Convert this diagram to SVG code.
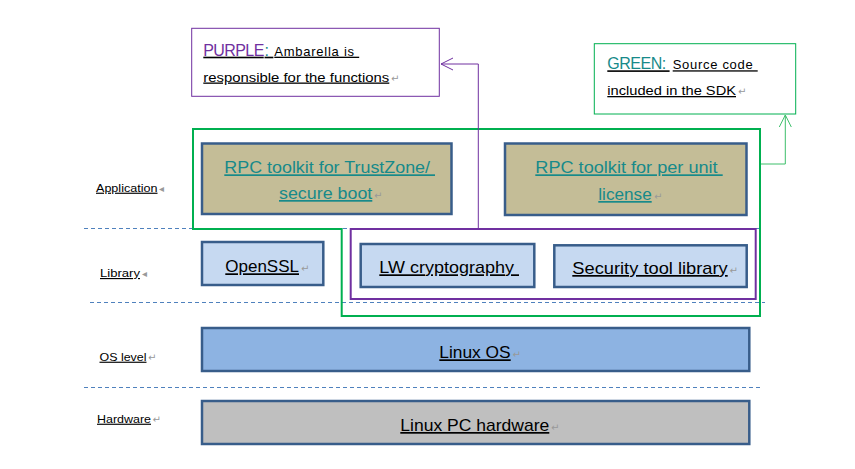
<svg xmlns="http://www.w3.org/2000/svg" width="855" height="469" viewBox="0 0 855 469">
<defs>
<style>
text{font-family:"Liberation Sans",Arial,sans-serif;}
.u{text-decoration:underline;}
.box{stroke:#385D8A;stroke-width:2.5;}
.app{fill:#C4BD97;}
.lib{fill:#C6D9F1;}
.big{font-size:17px;fill:#000;}
.teal{font-size:17px;fill:#178A8A;}
.lbl{font-size:11.5px;fill:#000;}
.note{font-size:13px;fill:#000;}
.ret{fill:#999;font-size:10px;font-family:"DejaVu Sans",sans-serif;}
.dash{stroke:#4F81BD;stroke-width:1;stroke-dasharray:4,3;fill:none;}
</style>
<marker id="openArrow" markerWidth="16" markerHeight="16" refX="13" refY="7" orient="auto" markerUnits="userSpaceOnUse">
<path d="M1,1 L13,7 L1,13" fill="none" stroke="context-stroke" stroke-width="1"/>
</marker>
</defs>
<rect width="855" height="469" fill="#fff"/>

<g id="dividers">
<line class="dash" x1="84" y1="228.5" x2="762" y2="228.5"/>
<line class="dash" x1="90" y1="302.5" x2="765" y2="302.5"/>
<line class="dash" x1="84" y1="387.5" x2="760" y2="387.5"/>
</g>

<g id="layer-labels">
<text class="lbl u" x="96" y="191.7" textLength="61.5" lengthAdjust="spacingAndGlyphs">Application</text>
<text class="ret" x="159" y="191.5">◂</text>
<text class="lbl u" x="100" y="277" textLength="40" lengthAdjust="spacingAndGlyphs">Library</text>
<text class="ret" x="142" y="277">◂</text>
<text class="lbl u" x="99.5" y="360.7" textLength="47" lengthAdjust="spacingAndGlyphs">OS level</text>
<text class="ret" x="148" y="360.5">↵</text>
<text class="lbl u" x="97" y="422.7" textLength="54" lengthAdjust="spacingAndGlyphs">Hardware</text>
<text class="ret" x="152.5" y="422.5">↵</text>
</g>

<g id="purple-note">
<rect x="191.7" y="28.3" width="247.6" height="68" fill="#fff" stroke="#7030A0" stroke-width="1"/>
<text class="u" y="55.7"><tspan x="203.3" font-size="16" fill="#7030A0" letter-spacing="-0.6">PURPLE</tspan><tspan x="264.5" font-size="16" fill="#178A8A">:&#160;</tspan><tspan x="274.3" font-size="13" fill="#000" letter-spacing="0.75">Ambarella is&#160;</tspan></text>
<text class="note u" x="203.3" y="81.5" textLength="186" lengthAdjust="spacingAndGlyphs">responsible for the functions</text>
<text class="ret" x="391" y="81.5">↵</text>
</g>

<g id="green-note">
<rect x="594.3" y="43.7" width="201.4" height="70.3" fill="#fff" stroke="#00B050" stroke-width="1"/>
<text class="u" y="69.3"><tspan x="607.3" font-size="16" fill="#178A8A" letter-spacing="-0.5">GREEN:&#160;</tspan><tspan x="672.7" font-size="13" fill="#000" letter-spacing="0.7">Source code&#160;</tspan></text>
<text class="note u" x="607.3" y="95" textLength="128.7" lengthAdjust="spacingAndGlyphs">included in the SDK</text>
<text class="ret" x="738" y="95">↵</text>
</g>

<g id="green-group">
<path d="M193,129 H760 V316 H341.7 V229 H193 Z" fill="none" stroke="#00B050" stroke-width="2"/>
</g>

<g id="purple-group">
<rect x="350.7" y="229" width="405" height="70" fill="none" stroke="#7030A0" stroke-width="2"/>
</g>

<g id="rpc-trustzone">
<rect class="box app" x="202" y="143.5" width="249.5" height="70.5"/>
<text class="teal u" x="224.3" y="173.3" textLength="210.7" lengthAdjust="spacingAndGlyphs">RPC toolkit for TrustZone/&#160;</text>
<text class="teal u" x="279" y="199" textLength="93.3" lengthAdjust="spacingAndGlyphs">secure boot</text>
<text class="ret" x="374" y="199">↵</text>
</g>

<g id="rpc-perunit">
<rect class="box app" x="505" y="143.5" width="241.5" height="71.5"/>
<text class="teal u" x="535.3" y="173.3" textLength="187.4" lengthAdjust="spacingAndGlyphs">RPC toolkit for per unit&#160;</text>
<text class="teal u" x="598.3" y="200" textLength="53.4" lengthAdjust="spacingAndGlyphs">license</text>
<text class="ret" x="654" y="200">↵</text>
</g>

<g id="openssl">
<rect class="box lib" x="202" y="242" width="121.3" height="43"/>
<text class="big u" x="225.3" y="272.3" textLength="73.7" lengthAdjust="spacingAndGlyphs">OpenSSL</text>
<text class="ret" x="301" y="272">↵</text>
</g>

<g id="lw-crypto">
<rect class="box lib" x="360.7" y="244" width="173.6" height="43"/>
<text class="big u" x="379.3" y="273.3" textLength="139.7" lengthAdjust="spacingAndGlyphs">LW cryptography&#160;</text>
</g>

<g id="security-tool">
<rect class="box lib" x="554.3" y="245.3" width="192.4" height="41.7"/>
<text class="big u" x="572.3" y="274" textLength="155.4" lengthAdjust="spacingAndGlyphs">Security tool library</text>
<text class="ret" x="729.5" y="274">↵</text>
</g>

<g id="linux-os">
<rect class="box" x="202" y="328" width="547.3" height="43" fill="#8DB3E2"/>
<text class="big u" x="439.3" y="358.3" textLength="71.4" lengthAdjust="spacingAndGlyphs">Linux OS</text>
<text class="ret" x="512.5" y="358">↵</text>
</g>

<g id="linux-hw">
<rect class="box" x="202" y="401" width="547.3" height="43" fill="#BFBFBF"/>
<text class="big u" x="400.3" y="431" textLength="149" lengthAdjust="spacingAndGlyphs">Linux PC hardware</text>
<text class="ret" x="551" y="431">↵</text>
</g>

<g id="connectors">
<path d="M478.3,229 V64 H441" fill="none" stroke="#7030A0" stroke-width="1" marker-end="url(#openArrow)"/>
<path d="M761,164 H785.3 V115" fill="none" stroke="#3DBF6B" stroke-width="1" marker-end="url(#openArrow)"/>
</g>
</svg>
